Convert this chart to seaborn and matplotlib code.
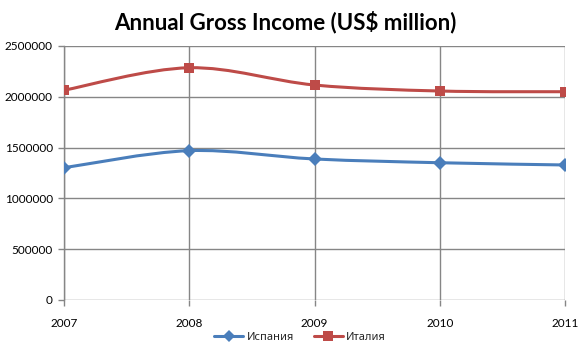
import numpy as np
import pandas as pd
import seaborn as sns
import matplotlib
matplotlib.use("Agg")
import matplotlib.pyplot as plt
from matplotlib.path import Path
from matplotlib.patches import PathPatch
from matplotlib.lines import Line2D

years = [2007, 2008, 2009, 2010, 2011]
spain = [1302000, 1470000, 1388000, 1351000, 1329000]
italy = [2065000, 2286000, 2116000, 2057000, 2050000]
series_names = ["Испания", "Италия"]
colors = ["#4A7EBB", "#BE4B48"]
markers = ["D", "s"]
yticks = [0, 500000, 1000000, 1500000, 2000000, 2500000]

df = pd.DataFrame({
    "year": years * 2,
    "value": spain + italy,
    "country": [series_names[0]] * len(years) + [series_names[1]] * len(years),
})

sns.set_style("white")
plt.rcParams["font.family"] = ["Lato", "DejaVu Sans"]

fig = plt.figure(figsize=(5.86, 3.48), dpi=100)
ax = fig.add_axes([64 / 586, 1 - 300 / 348, (565 - 64) / 586, (300 - 46) / 348])

grid_c = "#868686"


def smooth_path(xs, ys):
    """Cubic Bezier through the points, smoothed like a spreadsheet line."""
    pts = np.column_stack([xs, ys]).astype(float)
    n = len(pts)
    verts = [pts[0]]
    codes = [Path.MOVETO]
    for i in range(n - 1):
        p0 = pts[i - 1] if i > 0 else pts[i]
        p1 = pts[i]
        p2 = pts[i + 1]
        p3 = pts[i + 2] if i + 2 < n else pts[i + 1]
        c1 = p1 + (p2 - p0) / 6.0
        c2 = p2 - (p3 - p1) / 6.0
        verts += [c1, c2, p2]
        codes += [Path.CURVE4] * 3
    return Path(verts, codes)


for name, col, mk in zip(series_names, colors, markers):
    sub = df[df["country"] == name]
    sns.lineplot(data=sub, x="year", y="value", ax=ax, color=col, marker=mk,
                 markersize=7.5 if mk == "D" else 7, markeredgewidth=0,
                 linestyle="none", legend=False, zorder=4)
    ax.add_patch(PathPatch(smooth_path(sub["year"], sub["value"]),
                           facecolor="none", edgecolor=col, lw=2.2, zorder=3,
                           capstyle="round", joinstyle="round"))

ax.set_xlim(years[0], years[-1])
ax.set_ylim(0, 2500000)
ax.set_xticks(years)
ax.set_xticklabels([str(y) for y in years])
ax.set_yticks(yticks)
ax.set_yticklabels([str(v) for v in yticks])
ax.grid(True, color=grid_c, lw=1)
ax.set_axisbelow(True)
for s in ["top", "right", "bottom"]:
    ax.spines[s].set_visible(False)
ax.spines["left"].set_color(grid_c)
ax.spines["left"].set_linewidth(1)
ax.tick_params(axis="both", length=4, width=1, color=grid_c, labelsize=8.5,
               labelcolor="black", left=True, bottom=True)
ax.tick_params(axis="y", pad=4)
ax.tick_params(axis="x", pad=9)
ax.set_xlabel("")
ax.set_ylabel("")

fig.text(285 / 586, 1 - 22 / 348, "Annual Gross Income (US$ million)",
         ha="center", va="center", fontsize=16, fontweight="bold", color="black")

handles = [Line2D([], [], color=c, marker=m, lw=2.2, markersize=6.5 if m == "D" else 7.5,
                  markeredgewidth=0) for c, m in zip(colors, markers)]
fig.legend(handles, series_names, loc="center", bbox_to_anchor=(300 / 586, 1 - 337 / 348),
           ncol=2, frameon=False, handlelength=2.6, handletextpad=0.3,
           columnspacing=1.8, prop={"family": ["Noto Sans", "DejaVu Sans"], "size": 8})

fig.savefig("out.png", dpi=100)
